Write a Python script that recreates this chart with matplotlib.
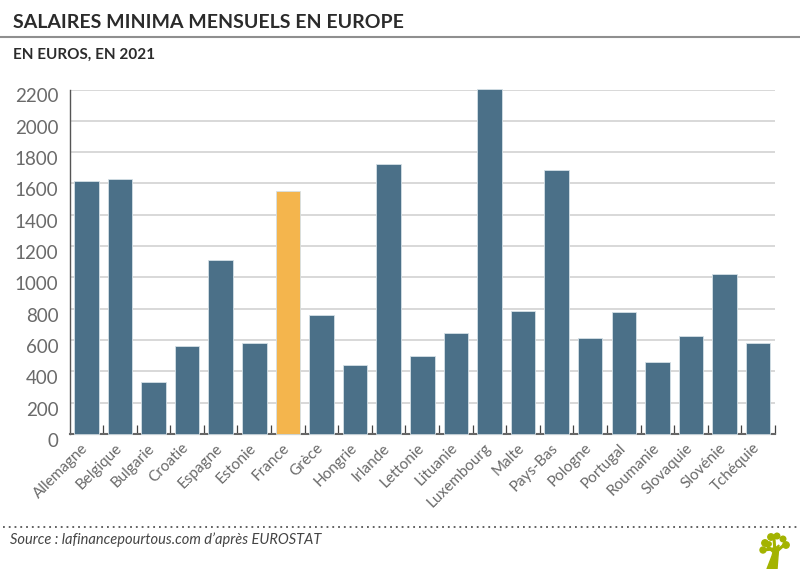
import matplotlib
matplotlib.use('Agg')
import matplotlib.pyplot as plt
import matplotlib.transforms as mtrans
from matplotlib.patches import Circle, Polygon
import numpy as np

plt.rcParams['font.family'] = ['Lato', 'DejaVu Sans']

# Data
pays = ['Allemagne', 'Belgique', 'Bulgarie', 'Croatie', 'Espagne', 'Estonie', 'France',
        'Grèce', 'Hongrie', 'Irlande', 'Lettonie', 'Lituanie', 'Luxembourg', 'Malte',
        'Pays-Bas', 'Pologne', 'Portugal', 'Roumanie', 'Slovaquie', 'Slovénie', 'Tchéquie']
salaires = [1614, 1626, 332, 563, 1108, 584, 1554, 758, 442, 1724, 500, 642, 2202, 785,
            1685, 614, 776, 458, 623, 1024, 579]
yticks = list(range(0, 2201, 200))

W, H = 800, 569
blue = '#4b7088'
orange = '#f4b54d'
text_color = '#6a6a6a'
dark = '#2b2b2b'

fig = plt.figure(figsize=(W / 100, H / 100), dpi=100)
ax = fig.add_axes([69.5 / W, 1 - 434 / H, (775 - 69.5) / W, (434 - 89.5) / H])

x = np.arange(len(pays))
colors = [orange if p == 'France' else blue for p in pays]
ax.bar(x, salaires, width=0.73, color=colors, edgecolor='#d5e0e6', linewidth=0.6, zorder=3, clip_on=False)

ax.set_xlim(-0.5, len(pays) - 0.5)
ax.set_ylim(0, 2200)
ax.set_yticks(yticks)
ax.yaxis.grid(True, color='#d2d2d2', linewidth=1.2, zorder=0)
ax.set_axisbelow(True)
for s in ['top', 'right']:
    ax.spines[s].set_visible(False)
ax.spines['left'].set_color('#555555')
ax.spines['left'].set_linewidth(1.0)
ax.spines['bottom'].set_color('#666666')
ax.spines['bottom'].set_linewidth(1.5)

# ticks sit between the bars, pointing up
ax.set_xticks(np.arange(len(pays)) + 0.5)
ax.set_xticklabels([])
ax.tick_params(axis='x', direction='in', length=6.5, width=0.9, color='#444444')
ax.tick_params(axis='y', length=0, pad=8)
for lab in ax.get_yticklabels():
    lab.set_fontsize(13.5)
    lab.set_color(text_color)
    lab.set_transform(lab.get_transform() + mtrans.ScaledTranslation(0, -6 / 100, fig.dpi_scale_trans))

# rotated country names, right end under each bar
for i, p in enumerate(pays):
    ax.annotate(p, xy=(i, 0), xycoords=('data', 'axes fraction'), xytext=(-4, -5),
                textcoords='offset points', rotation=45, rotation_mode='anchor',
                ha='right', va='top', fontsize=11, color=text_color)

# header
fig.text(13 / W, 1 - 23 / H, 'SALAIRES MINIMA MENSUELS EN EUROPE', fontsize=14, fontweight='bold',
         color=dark, va='center', ha='left')
fig.add_artist(plt.Line2D([0, 1], [1 - 37 / H, 1 - 37 / H], color='#8f8f8f', linewidth=1.5))
fig.text(13 / W, 1 - 55 / H, 'EN EUROS, EN 2021', fontsize=11, fontweight='bold', color=dark,
         va='center', ha='left')

# footer
fig.add_artist(plt.Line2D([0.004, 1], [1 - 527 / H, 1 - 527 / H], color='#555555', linewidth=1.3,
                          linestyle=(0, (1, 2.2))))
fig.text(10 / W, 1 - 540 / H, "Source : lafinancepourtous.com d’après EUROSTAT", fontsize=10.5, fontstyle='italic',
         color='#444444', va='center', ha='left')

# small tree logo
green = '#a3b300'
logo = fig.add_axes([0, 0, 1, 1], facecolor='none')
logo.set_xlim(0, W)
logo.set_ylim(H, 0)
logo.axis('off')
logo.add_patch(Polygon([(767, 569), (772, 556), (774, 549), (779, 545), (778, 556), (777, 569)], color=green))
for (x0, y0), (x1, y1) in [((775, 553), (766, 545)), ((775, 553), (774, 538)), ((776, 552), (785, 544)),
                           ((773, 549), (763, 550))]:
    logo.plot([x0, x1], [y0, y1], color=green, linewidth=2.2)
for cx, cy, r in [(763, 550, 3.0), (765, 543, 3.2), (771, 537, 3.2), (777, 536, 2.8), (783, 539, 2.8), (786, 545, 3.2),
                  (769, 544, 2.2)]:
    logo.add_patch(Circle((cx, cy), r, color=green))

fig.savefig('out.png', dpi=100, facecolor='white')
